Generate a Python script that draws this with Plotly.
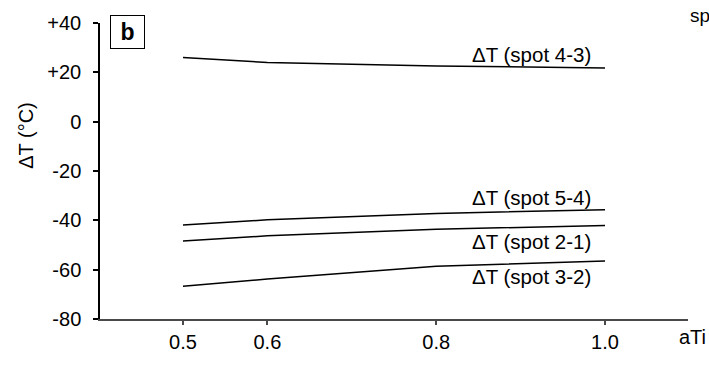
import plotly.graph_objects as go

# Data
x_vals = [0.5, 0.6, 0.8, 1.0]
series = {
    "ΔT (spot 4-3)": [26.0, 24.0, 22.6, 21.8],
    "ΔT (spot 5-4)": [-41.9, -39.8, -37.2, -35.7],
    "ΔT (spot 2-1)": [-48.4, -46.3, -43.6, -42.1],
    "ΔT (spot 3-2)": [-66.7, -63.8, -58.6, -56.5],
}
label_y = {
    "ΔT (spot 4-3)": 27.3,
    "ΔT (spot 5-4)": -30.9,
    "ΔT (spot 2-1)": -48.4,
    "ΔT (spot 3-2)": -62.7,
}
x_ticks = [0.5, 0.6, 0.8, 1.0]
x_ticktext = ["0.5", "0.6", "0.8", "1.0"]
y_ticks = [40, 20, 0, -20, -40, -60, -80]
y_ticktext = ["+40", "+20", "0", "-20", "-40", "-60", "-80"]

FONT = "Liberation Sans, Arial, sans-serif"

fig = go.Figure()
for name, vals in series.items():
    fig.add_trace(go.Scatter(x=x_vals, y=vals, mode="lines",
                             line=dict(color="black", width=1.5),
                             name=name, showlegend=False))

annotations = []
for name, yv in label_y.items():
    annotations.append(dict(x=0.986, y=yv, xref="x", yref="y", text=name,
                            showarrow=False, xanchor="right", yanchor="middle",
                            font=dict(family=FONT, size=20.5, color="black")))

# panel label
annotations.append(dict(x=10 / 588, y=1.0, xref="paper", yref="paper",
                        text="<b>b</b>", showarrow=False, xanchor="left", yanchor="top",
                        yshift=8,
                        font=dict(family=FONT, size=23, color="black"),
                        bordercolor="black", borderwidth=1, borderpad=2,
                        bgcolor="white", width=29, height=28))
# y axis title
annotations.append(dict(x=(26 - 100) / 588, y=(330 - 137.5) / 311, xref="paper", yref="paper",
                        text="ΔT (°C)", textangle=-90, showarrow=False,
                        xanchor="center", yanchor="middle",
                        font=dict(family=FONT, size=20, color="black")))
# x axis title
annotations.append(dict(x=(677 - 100) / 588, y=(330 - 349) / 311, xref="paper", yref="paper",
                        text="aTi", showarrow=False, xanchor="left", yanchor="middle",
                        font=dict(family=FONT, size=20, color="black")))
# text at top right (clipped in the original)
annotations.append(dict(x=(688 - 100) / 588, y=(330 - 11) / 311, xref="paper", yref="paper",
                        text="sp", showarrow=False, xanchor="left", yanchor="middle",
                        font=dict(family=FONT, size=19, color="black")))

fig.update_layout(
    width=709, height=365,
    margin=dict(l=100, r=21, t=19, b=35),
    paper_bgcolor="white", plot_bgcolor="white",
    font=dict(family=FONT, size=20, color="black"),
    annotations=annotations,
    xaxis=dict(range=[0.4017, 1.0983], tickvals=x_ticks, ticktext=x_ticktext,
               showline=True, linecolor="#4a4a4a", linewidth=2,
               ticks="outside", ticklen=4, tickcolor="#4a4a4a", tickwidth=1.5,
               showgrid=False, zeroline=False,
               tickfont=dict(family=FONT, size=20, color="black")),
    yaxis=dict(range=[-80, 40], tickvals=y_ticks, ticktext=y_ticktext,
               showline=True, linecolor="black", linewidth=1.5,
               ticks="outside", ticklen=5, tickcolor="black", tickwidth=1.5,
               showgrid=False, zeroline=False, ticklabelstandoff=8,
               tickfont=dict(family=FONT, size=20, color="black")),
)

fig.write_html("out.html")
